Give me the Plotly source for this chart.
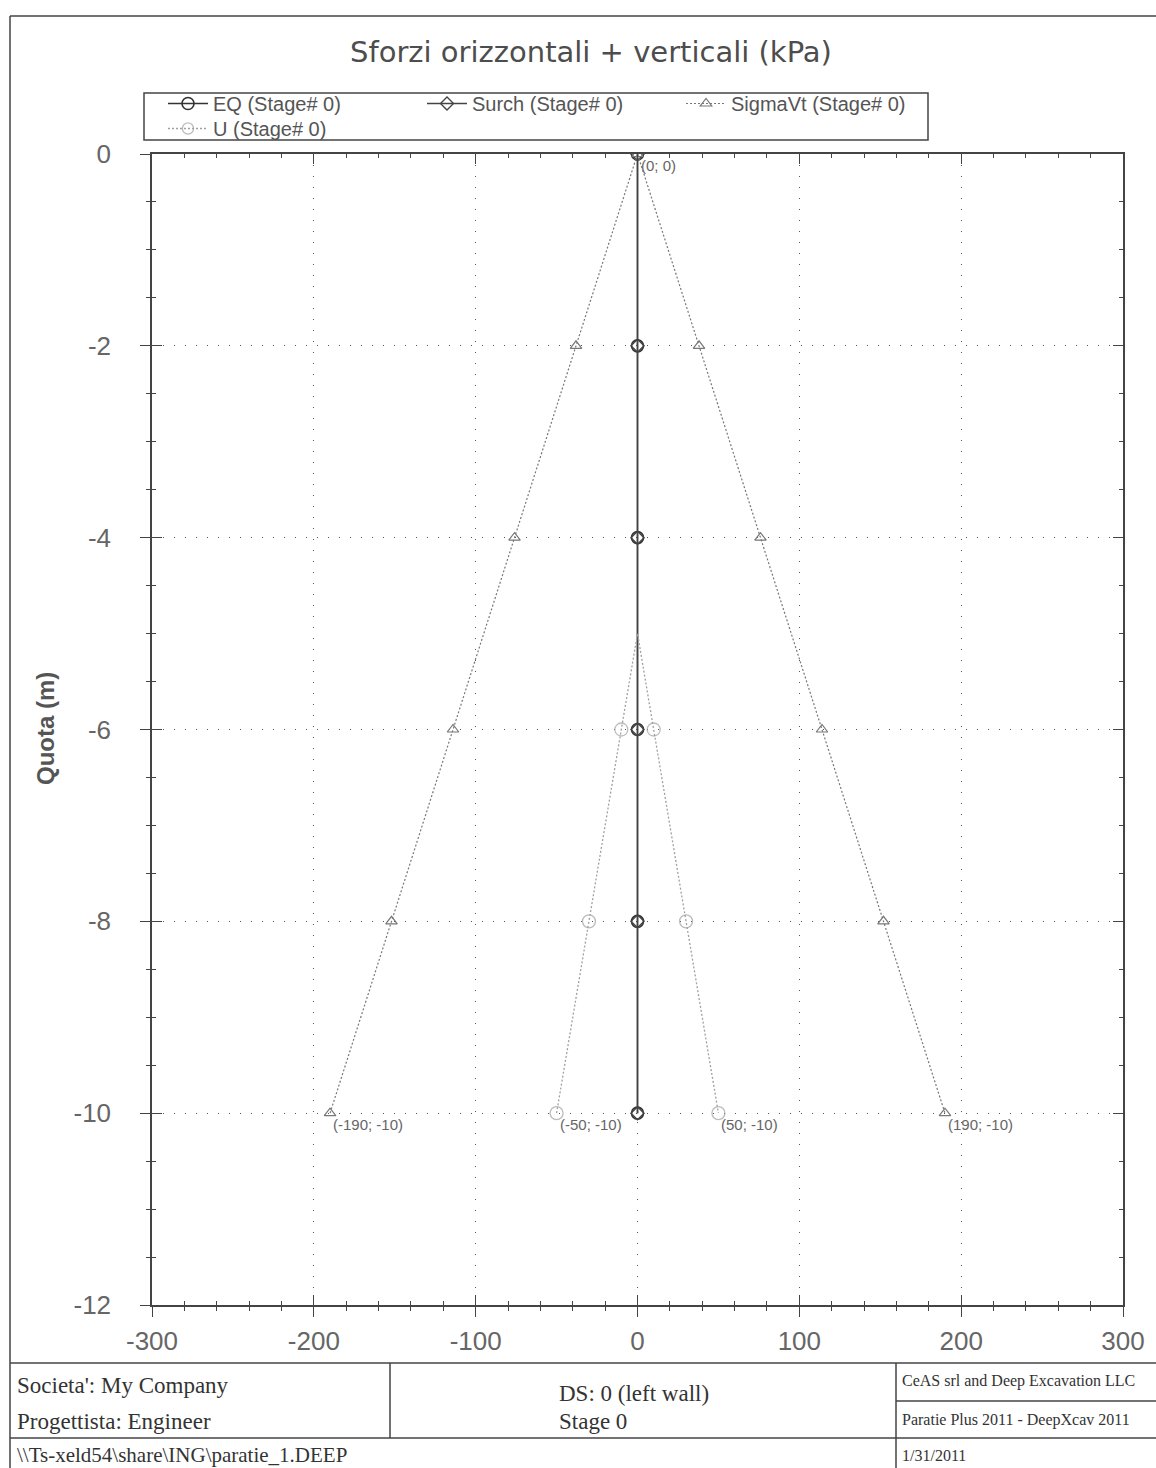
import plotly.graph_objects as go

# ---------------- data ----------------
depth = [0, -2, -4, -6, -8, -10]          # Quota (m)
eq_vals = [0, 0, 0, 0, 0, 0]              # EQ (kPa)
surch_vals = [0, 0, 0, 0, 0, 0]           # Surch (kPa)
sigma_vt = [0, 38, 76, 114, 152, 190]     # SigmaVt (kPa), plotted +/-
u_depth = [-5, -6, -8, -10]               # U starts at water table
u_vals = [0, 10, 30, 50]                  # U (kPa), plotted +/-

x_ticks = [-300, -200, -100, 0, 100, 200, 300]
y_ticks = [0, -2, -4, -6, -8, -10, -12]

title_text = "Sforzi orizzontali + verticali (kPa)"
y_title = "Quota (m)"
footer_left = ["Societa': My Company", "Progettista: Engineer"]
footer_mid = ["DS: 0 (left wall)", "Stage 0"]
footer_right = ["CeAS srl and Deep Excavation LLC", "Paratie Plus 2011 - DeepXcav 2011", "1/31/2011"]
footer_path = "\\\\Ts-xeld54\\share\\ING\\paratie_1.DEEP"

# ---------------- page geometry ----------------
W, H = 1156, 1468
L, R, T, B = 152, 1123, 154, 1305


def px(p):
    return (p - L) / (R - L)


def py(p):
    return (B - p) / (B - T)


TICK_FONT = dict(family="Liberation Sans Narrow, Arial Narrow, Liberation Sans, Arial, sans-serif",
                 size=26, color="#666666")
AX = "#444444"
LEG_FONT = dict(family="Liberation Sans, Arial, sans-serif", size=20, color="#555555")

fig = go.Figure()

# symmetric paths
sv_x = [-v for v in reversed(sigma_vt)] + sigma_vt[1:]
sv_y = list(reversed(depth)) + depth[1:]
u_x = [-v for v in reversed(u_vals)] + u_vals[1:]
u_y = list(reversed(u_depth)) + u_depth[1:]
u_sizes = [0 if v == 0 else 13 for v in u_x]

fig.add_trace(go.Scatter(
    x=eq_vals, y=depth, mode="lines+markers", name="EQ (Stage# 0)", legend="legend",
    line=dict(color="#333333", width=1.6),
    marker=dict(symbol="circle-open", size=12, color="#333333", line=dict(width=1.6)),
))
fig.add_trace(go.Scatter(
    x=surch_vals, y=depth, mode="lines+markers", name="Surch (Stage# 0)", legend="legend",
    line=dict(color="#444444", width=1.4),
    marker=dict(symbol="diamond-open", size=10, color="#444444", line=dict(width=1.4)),
))
fig.add_trace(go.Scatter(
    x=sv_x, y=sv_y, mode="lines+markers", name="SigmaVt (Stage# 0)", legend="legend",
    line=dict(color="#777777", width=1.2, dash="2px,2px"),
    marker=dict(symbol="triangle-up-open", size=10, color="#777777", line=dict(width=1.2)),
))
fig.add_trace(go.Scatter(
    x=u_x, y=u_y, mode="lines+markers", name="U (Stage# 0)", legend="legend2",
    line=dict(color="#a0a0a0", width=1.3, dash="2px,2px"),
    marker=dict(symbol="circle-open", size=u_sizes, color="#a0a0a0", line=dict(width=1.3)),
))
# empty trace so the overlay axes (inside / mirrored ticks) are drawn
fig.add_trace(go.Scatter(x=[None], y=[None], xaxis="x2", yaxis="y2", showlegend=False,
                         hoverinfo="skip", mode="markers"))

# point labels
label_pts = [(0, 0), (-sigma_vt[-1], depth[-1]), (-u_vals[-1], u_depth[-1]),
             (u_vals[-1], u_depth[-1]), (sigma_vt[-1], depth[-1])]
annotations = []
for lx, ly in label_pts:
    annotations.append(dict(
        x=lx, y=ly, xref="x", yref="y", text=f"({lx:g}; {ly:g})", showarrow=False,
        xanchor="left", yanchor="top", xshift=1, yshift=-1,
        font=dict(family="Liberation Sans, Arial, sans-serif", size=15, color="#666666"),
    ))

# y-axis title
annotations.append(dict(
    x=px(45), y=py(729), xref="paper", yref="paper", text=f"<b>{y_title}</b>",
    showarrow=False, textangle=-90, xanchor="center", yanchor="middle",
    font=dict(family="Liberation Sans, Arial, sans-serif", size=24, color="#555555"),
))

# footer texts
SERIF = "Liberation Serif, Times New Roman, serif"
for txt, ypix in zip(footer_left, [1385, 1421]):
    annotations.append(dict(x=px(15), y=py(ypix), xref="paper", yref="paper", text=txt,
                            showarrow=False, xanchor="left", yanchor="middle",
                            font=dict(family=SERIF, size=23, color="#333333")))
for txt, ypix in zip(footer_mid, [1393, 1421]):
    annotations.append(dict(x=px(557), y=py(ypix), xref="paper", yref="paper", text=txt,
                            showarrow=False, xanchor="left", yanchor="middle",
                            font=dict(family=SERIF, size=23, color="#333333")))
for txt, ypix in zip(footer_right, [1381, 1420, 1455]):
    annotations.append(dict(x=px(900), y=py(ypix), xref="paper", yref="paper", text=txt,
                            showarrow=False, xanchor="left", yanchor="middle",
                            font=dict(family=SERIF, size=16, color="#333333")))
annotations.append(dict(x=px(15), y=py(1455), xref="paper", yref="paper", text=footer_path,
                        showarrow=False, xanchor="left", yanchor="middle",
                        font=dict(family=SERIF, size=21, color="#333333")))

# frame / footer lines
LC = dict(color="#444444", width=1.5)
segs = [
    (10, 16, 10, 1468), (10, 16, 1156, 16),
    (10, 1363, 1156, 1363), (10, 1438, 1156, 1438), (896, 1401, 1156, 1401),
    (390, 1363, 390, 1438), (896, 1363, 896, 1468),
]
shapes = [dict(type="line", xref="paper", yref="paper", x0=px(a), y0=py(b), x1=px(c), y1=py(d),
               line=LC, layer="above") for a, b, c, d in segs]
# legend box
shapes.append(dict(type="rect", xref="paper", yref="paper", x0=px(144), y0=py(93),
                   x1=px(928), y1=py(140), line=dict(color="#444444", width=1.5),
                   fillcolor="rgba(0,0,0,0)", layer="above"))

grid_common = dict(gridcolor="#555555", griddash="1px,10px", gridwidth=1)

legend_common = dict(
    orientation="h", xanchor="left", yanchor="top", xref="paper", yref="paper",
    borderwidth=0, bgcolor="rgba(0,0,0,0)",
    entrywidth=204, entrywidthmode="pixels", itemwidth=40,
    font=LEG_FONT, tracegroupgap=0,
)

fig.update_layout(
    width=W, height=H,
    margin=dict(l=L, r=W - R, t=T, b=H - B, pad=0),
    paper_bgcolor="white", plot_bgcolor="white",
    title=dict(text=title_text, x=591 / W, xref="container",
               xanchor="center", y=1 - 52 / H, yanchor="middle",
               font=dict(family="DejaVu Sans, Verdana, sans-serif", size=29, color="#4d4d4d")),
    showlegend=True,
    legend=dict(x=px(163), y=py(84), **legend_common),
    legend2=dict(x=px(163), y=py(109), **legend_common),
    xaxis=dict(
        range=[-300, 300], tickvals=x_ticks, ticktext=[f"{v:g}" for v in x_ticks],
        showgrid=True, **grid_common, zeroline=False,
        showline=True, linecolor=AX, linewidth=1.5, mirror=False,
        ticks="outside", ticklen=10, tickwidth=1.3, tickcolor=AX,
        minor=dict(dtick=20, ticks="outside", ticklen=4, tickwidth=1.2, tickcolor=AX, showgrid=False),
        tickfont=TICK_FONT, ticklabelstandoff=2,
    ),
    yaxis=dict(
        range=[-12, 0], tickvals=y_ticks, ticktext=[f"{v:g}" for v in y_ticks],
        showgrid=True, **grid_common, zeroline=False,
        showline=True, linecolor=AX, linewidth=1.5, mirror=False,
        ticks="outside", ticklen=10, tickwidth=1.3, tickcolor=AX,
        minor=dict(dtick=0.5, ticks="outside", ticklen=4, tickwidth=1.2, tickcolor=AX, showgrid=False),
        tickfont=TICK_FONT, ticklabelstandoff=24,
    ),
    xaxis2=dict(
        overlaying="x", anchor="y2", side="bottom", range=[-300, 300], tickvals=x_ticks,
        showticklabels=False, showgrid=False, zeroline=False,
        showline=True, linecolor=AX, linewidth=1.5, mirror="allticks",
        ticks="inside", ticklen=10, tickwidth=1.3, tickcolor=AX,
        minor=dict(dtick=20, ticks="inside", ticklen=4, tickwidth=1.2, tickcolor=AX, showgrid=False),
    ),
    yaxis2=dict(
        overlaying="y", anchor="x2", side="left", range=[-12, 0], tickvals=y_ticks,
        showticklabels=False, showgrid=False, zeroline=False,
        showline=True, linecolor=AX, linewidth=1.5, mirror="allticks",
        ticks="inside", ticklen=10, tickwidth=1.3, tickcolor=AX,
        minor=dict(dtick=0.5, ticks="inside", ticklen=4, tickwidth=1.2, tickcolor=AX, showgrid=False),
    ),
    annotations=annotations,
    shapes=shapes,
)

fig.write_html("out.html", config={"displayModeBar": False},
               post_script="document.body.style.margin='0';document.body.style.overflow='hidden';")
